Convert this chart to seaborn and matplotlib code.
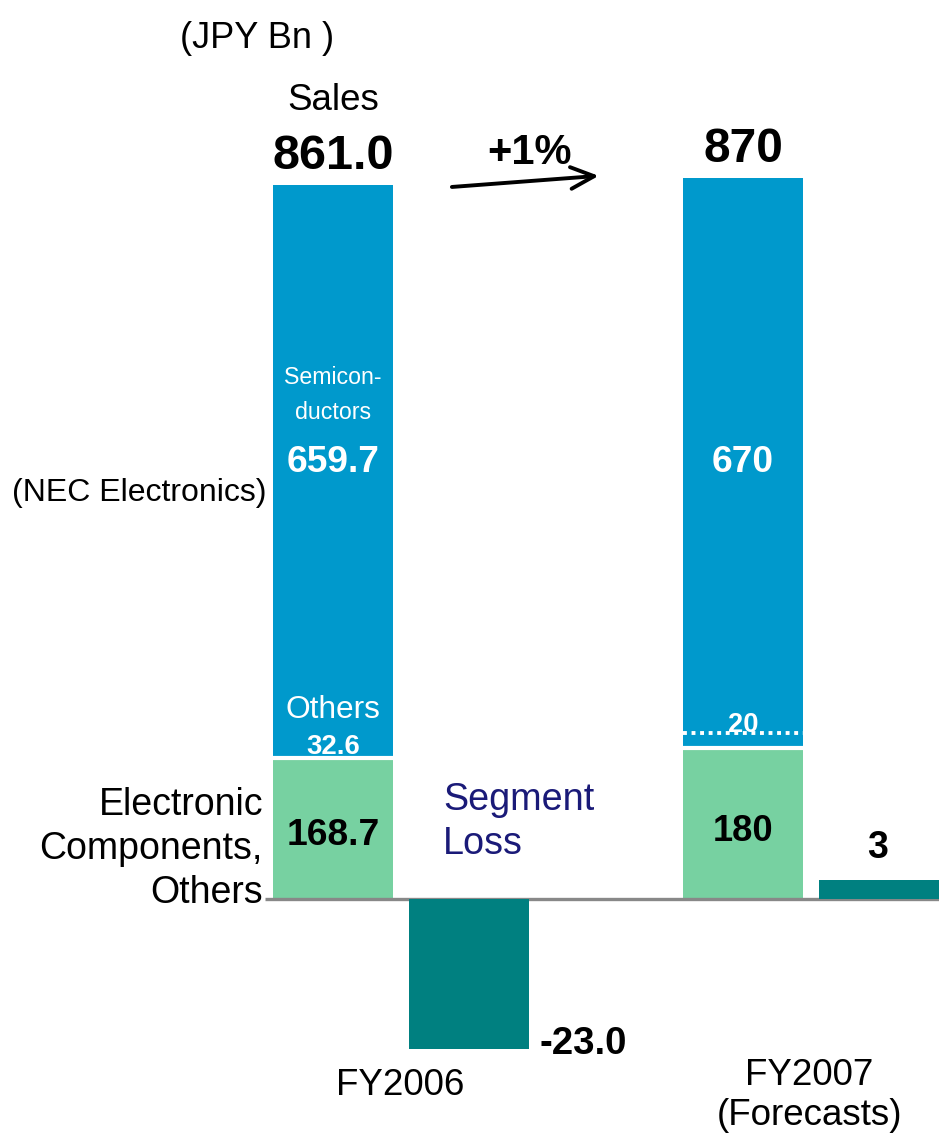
import numpy as np
import pandas as pd
import matplotlib
matplotlib.use("Agg")
import matplotlib.pyplot as plt
import seaborn as sns

# ---------------- data ----------------
years = ["FY2006", "FY2007\n(Forecasts)"]
electronic_components = [168.7, 180]
others = [32.6, 20]
semiconductors = [659.7, 670]
sales_total = [861.0, 870]
segment_result = [-23.0, 3]
total_labels = ["861.0", "870"]
semi_labels = ["659.7", "670"]
others_labels = ["32.6", "20"]
ec_labels = ["168.7", "180"]
seg_labels = ["-23.0", "3"]
growth_label = "+1%"

# ---------------- style ----------------
sns.set_theme(style="white")
plt.rcParams["font.family"] = ["Liberation Sans", "DejaVu Sans"]
plt.rcParams["text.color"] = "black"

BLUE = "#0099CC"
GREEN = "#77D1A1"
TEAL = "#008080"
NAVY = "#1a1a78"

W_PX, H_PX = 939, 1133
fig = plt.figure(figsize=(W_PX / 100, H_PX / 100), dpi=100)
ax = fig.add_axes([0, 0, 1, 1])
ax2 = ax.twinx()
ax2.set_position([0, 0, 1, 1])

main_x = np.array([0.0, 1.0])
loss_x = main_x + 0.332
bar_w = 0.293

df = pd.DataFrame({
    "x": main_x,
    "total": sales_total,
    "ec": electronic_components,
    "ec_plus_others": np.array(electronic_components) + np.array(others),
})
df_loss = pd.DataFrame({"x": loss_x, "seg": segment_result})

# blue (semiconductors + others) full bar, then green on top
sns.barplot(data=df, x="x", y="total", native_scale=True, width=bar_w,
            color=BLUE, saturation=1, errorbar=None, ax=ax, linewidth=0,
            zorder=2)
sns.barplot(data=df, x="x", y="ec", native_scale=True, width=bar_w,
            color=GREEN, saturation=1, errorbar=None, ax=ax, linewidth=0,
            zorder=3)
sns.barplot(data=df_loss, x="x", y="seg", native_scale=True, width=bar_w,
            color=TEAL, saturation=1, errorbar=None, ax=ax2, linewidth=0,
            zorder=2)

# white separator between green and blue
for xi, h in zip(main_x, electronic_components):
    ax.hlines(h + 1.8, xi - bar_w / 2, xi + bar_w / 2, color="white", lw=3.0, zorder=4)
# dotted line for FY2007 others
ax.hlines(df["ec_plus_others"][1], main_x[1] - bar_w / 2, main_x[1] + bar_w / 2,
          color="white", lw=2.8, linestyles=(0, (1, 1.2)), zorder=4)

# axes scales (pixel-aligned)
px_per_unit = 0.8293
base_px = 899
x0_px, unit_px = 333, 410
ax.set_xlim((0 - x0_px) / unit_px, (W_PX - x0_px) / unit_px)
ax.set_ylim(-(H_PX - base_px) / px_per_unit, base_px / px_per_unit)
loss_ppu = 6.5
ax2.set_ylim(-(H_PX - base_px) / loss_ppu, base_px / loss_ppu)
for a in (ax, ax2):
    a.set_axis_off()

# baseline
ax.hlines(0, -0.166, ax.get_xlim()[1], color="#888888", lw=2.4, zorder=6)

# ---------------- texts ----------------
D = -4.0       # small downward nudge (main-axis units)
D2 = -0.52     # same nudge on the segment axis


def t(x, y, s, **kw):
    ax.text(x, y + D, s, va="center", **kw)


t(-0.185, 1042, "(JPY Bn )", ha="center", fontsize=26)
t(main_x[0], 967, "Sales", ha="center", fontsize=26.5)
t(main_x[0], sales_total[0] + 38, total_labels[0], ha="center", fontsize=35, fontweight="bold")
t(main_x[1], sales_total[1] + 38, total_labels[1], ha="center", fontsize=34.5, fontweight="bold")

t(0.48, 903, growth_label, ha="center", fontsize=30, fontweight="bold")
ax.annotate("", xy=(0.648, 872), xytext=(0.290, 858.6),
            arrowprops=dict(arrowstyle="->,head_length=1.4,head_width=0.65",
                            lw=2.8, color="black", shrinkA=0, shrinkB=0))

t(main_x[0], 633, "Semicon-", ha="center", fontsize=16.7, color="white")
t(main_x[0], 591, "ductors", ha="center", fontsize=16.7, color="white")
for xi, lab in zip(main_x, semi_labels):
    t(xi, 530, lab, ha="center", fontsize=26.7, fontweight="bold", color="white")

t(-0.163, 493, "(NEC Electronics)", ha="right", fontsize=23)

t(main_x[0], 231.5, "Others", ha="center", fontsize=22.8, color="white")
t(main_x[0], 187.5, others_labels[0], ha="center", fontsize=19.8, fontweight="bold", color="white")
t(main_x[1], 213.5, others_labels[1], ha="center", fontsize=19.6, fontweight="bold", color="white")

t(main_x[0], 81, ec_labels[0], ha="center", fontsize=26.8, fontweight="bold")
t(main_x[1], 85.5, ec_labels[1], ha="center", fontsize=26.2, fontweight="bold")

for yy, line in zip([117, 64, 11], ["Electronic", "Components,", "Others"]):
    t(-0.171, yy, line, ha="right", fontsize=27)

t(0.268, 123, "Segment", ha="left", fontsize=27.2, color=NAVY)
t(0.268, 70, "Loss", ha="left", fontsize=27.2, color=NAVY)

ax2.text(loss_x[0] + bar_w / 2 + 0.025, -21.8 + D2, seg_labels[0], ha="left", va="center",
         fontsize=27.7, fontweight="bold")
ax2.text(loss_x[1] - 0.005, 8.3 + D2, seg_labels[1], ha="center", va="center",
         fontsize=27, fontweight="bold")

t(0.163, -220.7, "FY2006", ha="center", fontsize=26.5)
t(1.161, -208.6, "FY2007", ha="center", fontsize=26.5)
t(1.161, -256.8, "(Forecasts)", ha="center", fontsize=26.5)

fig.savefig("out.png", dpi=100)
